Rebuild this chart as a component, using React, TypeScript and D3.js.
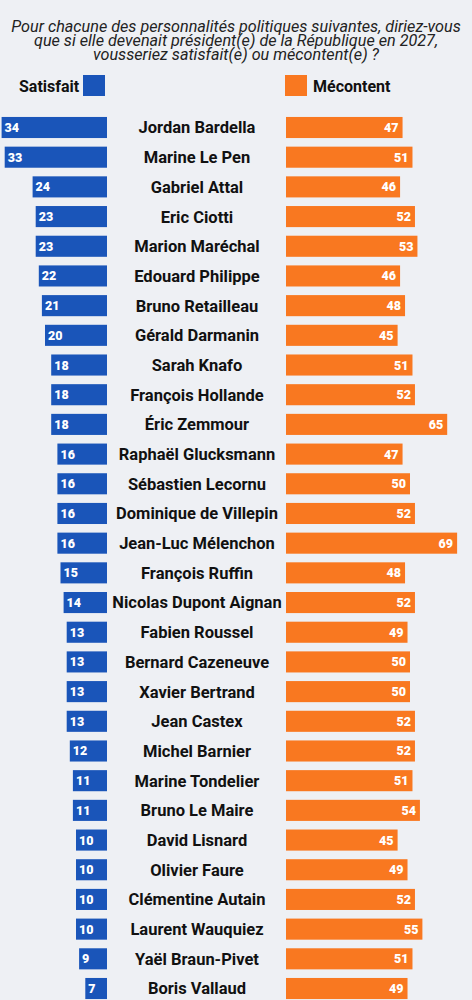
import React from "react";
import * as d3 from "d3";

const names = [
  "Jordan Bardella", "Marine Le Pen", "Gabriel Attal", "Eric Ciotti", "Marion Maréchal",
  "Edouard Philippe", "Bruno Retailleau", "Gérald Darmanin", "Sarah Knafo", "François Hollande",
  "Éric Zemmour", "Raphaël Glucksmann", "Sébastien Lecornu", "Dominique de Villepin", "Jean-Luc Mélenchon",
  "François Ruffin", "Nicolas Dupont Aignan", "Fabien Roussel", "Bernard Cazeneuve", "Xavier Bertrand",
  "Jean Castex", "Michel Barnier", "Marine Tondelier", "Bruno Le Maire", "David Lisnard",
  "Olivier Faure", "Clémentine Autain", "Laurent Wauquiez", "Yaël Braun-Pivet", "Boris Vallaud",
];
const satisfait = [34, 33, 24, 23, 23, 22, 21, 20, 18, 18, 18, 16, 16, 16, 16, 15, 14, 13, 13, 13, 13, 12, 11, 11, 10, 10, 10, 10, 9, 7];
const mecontent = [47, 51, 46, 52, 53, 46, 48, 45, 51, 52, 65, 47, 50, 52, 69, 48, 52, 49, 50, 50, 52, 52, 51, 54, 45, 49, 52, 55, 51, 49];
const titleLines = [
  "Pour chacune des personnalités politiques suivantes, diriez-vous",
  "que si elle devenait président(e) de la République en 2027,",
  "vousseriez satisfait(e) ou mécontent(e) ?",
];
const legendLabels = ["Satisfait", "Mécontent"];

const W = 472;
const H = 1000;
const BLUE = "#1a55b9";
const ORANGE = "#f97820";
const BG = "#eef0f4";
const FONT = "Roboto, 'Noto Sans', sans-serif";

export default function App() {
  const step = 29.69;
  const y = d3
    .scaleBand<string>()
    .domain(names)
    .range([127.5 - step / 2, 127.5 - step / 2 + step * names.length])
    .paddingInner(0.29)
    .paddingOuter(0.145);
  const blueEnd = 107;
  const xB = d3.scaleLinear().domain([0, 1]).range([0, 3.1]);
  const orangeStart = 286;
  const xO = d3.scaleLinear().domain([0, 1]).range([0, 2.48]);
  const bh = y.bandwidth();

  return (
    <svg
      width={W}
      height={H}
      style={{ position: "absolute", left: 0, top: 0, background: BG, display: "block" }}
    >
      <rect x={0} y={0} width={W} height={H} fill={BG} />
      {titleLines.map((t, i) => (
        <text
          key={i}
          x={W / 2}
          y={32 + i * 14}
          textAnchor="middle"
          fontFamily={FONT}
          fontStyle="italic"
          fontSize={16.2}
          fill="#222"
        >
          {t}
        </text>
      ))}
      {/* legend */}
      <text x={19} y={92} fontFamily={FONT} fontWeight={700} fontSize={16} fill="#111">
        {legendLabels[0]}
      </text>
      <rect x={83} y={75} width={22} height={21} fill={BLUE} />
      <rect x={285} y={75} width={22} height={21} fill={ORANGE} />
      <text x={313} y={92} fontFamily={FONT} fontWeight={700} fontSize={16} fill="#111">
        {legendLabels[1]}
      </text>

      {names.map((n, i) => {
        const y0 = y(n) as number;
        const cy = y0 + bh / 2;
        const bw = xB(satisfait[i]);
        const ow = xO(mecontent[i]);
        return (
          <g key={n}>
            <rect x={blueEnd - bw} y={y0} width={bw} height={bh} fill={BLUE} />
            <text
              x={blueEnd - bw + 3}
              y={cy}
              dy="0.36em"
              fontFamily={FONT}
              fontWeight={900}
              fontSize={12.5}
              fill="#fff"
            >
              {satisfait[i]}
            </text>
            <text
              x={197}
              y={cy}
              dy="0.36em"
              textAnchor="middle"
              fontFamily={FONT}
              fontWeight={700}
              fontSize={16.5}
              fill="#111"
            >
              {n}
            </text>
            <rect x={orangeStart} y={y0} width={ow} height={bh} fill={ORANGE} />
            <text
              x={orangeStart + ow - 4}
              y={cy}
              dy="0.36em"
              textAnchor="end"
              fontFamily={FONT}
              fontWeight={900}
              fontSize={12.5}
              fill="#fff"
            >
              {mecontent[i]}
            </text>
          </g>
        );
      })}
    </svg>
  );
}
